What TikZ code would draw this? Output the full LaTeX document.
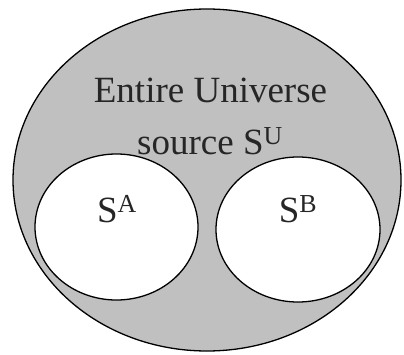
\documentclass[tikz,border=0pt]{standalone}
\usepackage{fontspec}
\setmainfont{Liberation Serif}
\definecolor{shade}{HTML}{C0C0C0}
\begin{document}
\begin{tikzpicture}[x=1pt,y=1pt,
  rim/.style={draw=black,line width=1.3pt},
  lbl/.style={font=\fontsize{37}{42}\selectfont,text=black!85,inner sep=0pt,anchor=base}]
\useasboundingbox (0,0) rectangle (404,354);
\fill[white] (0,0) rectangle (404,354);
\draw[rim,fill=shade] (207,174) ellipse [x radius=194, y radius=171];
\draw[rim,fill=white] (116.5,127) ellipse [x radius=81.5, y radius=73];
\draw[rim,fill=white] (298,124.5) ellipse [x radius=82, y radius=72.5];
\node[lbl] (t1) at (210.5,251) {Entire Universe};
\node[lbl] (t2) at (210,200) {source S\textsuperscript{U}};
\node[lbl] (a) at (117,132) {S\textsuperscript{A}};
\node[lbl] (b) at (298,132) {S\textsuperscript{B}};
\end{tikzpicture}
\end{document}
